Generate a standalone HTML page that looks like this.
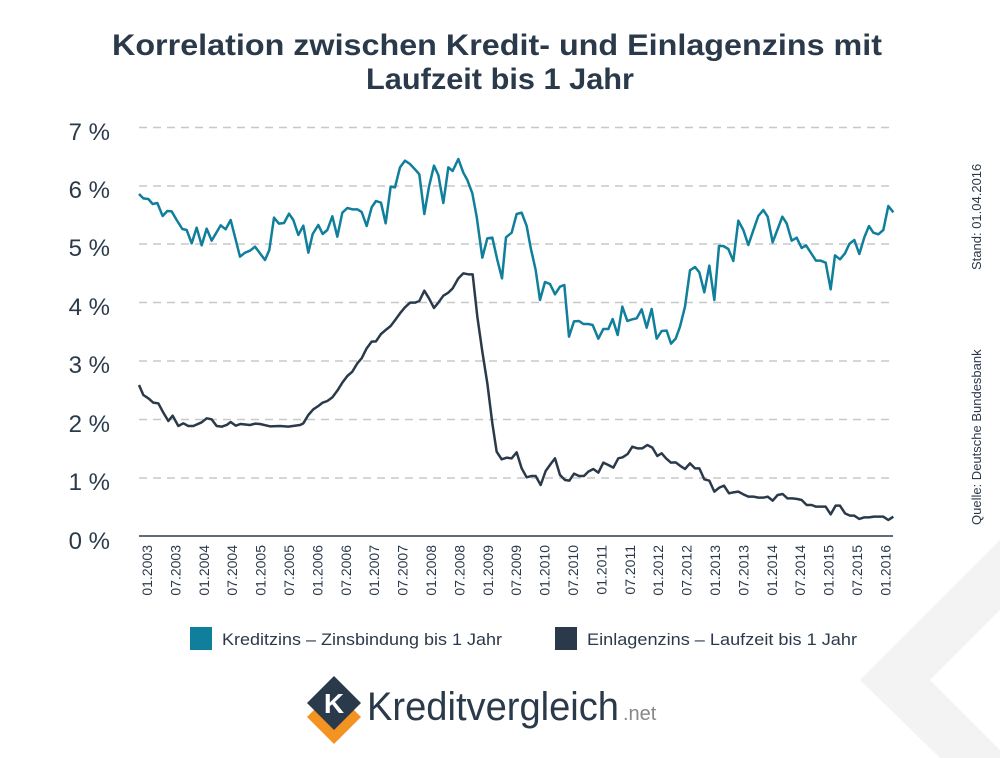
<!DOCTYPE html>
<html><head><meta charset="utf-8"><style>
body{margin:0;background:#fff;}
svg{display:block;font-family:"Liberation Sans",sans-serif;}
</style></head><body>
<svg width="1000" height="758" viewBox="0 0 1000 758" xmlns="http://www.w3.org/2000/svg">
<polygon points="1000,540 860,680 940,758 1000,758" fill="#f3f3f3"/>
<polygon points="1000,610 930,680 1000,750" fill="#fff"/>
<text x="112" y="55" font-size="30" font-weight="bold" fill="#2b3a4a" textLength="770" lengthAdjust="spacingAndGlyphs">Korrelation zwischen Kredit- und Einlagenzins mit</text>
<text x="366" y="89" font-size="30" font-weight="bold" fill="#2b3a4a" textLength="268" lengthAdjust="spacingAndGlyphs">Laufzeit bis 1 Jahr</text>
<g stroke="#c8c8c8" stroke-width="1.5" stroke-dasharray="8,6">
<line x1="139" y1="127.5" x2="893" y2="127.5"/><line x1="139" y1="186" x2="893" y2="186"/>
<line x1="139" y1="244" x2="893" y2="244"/><line x1="139" y1="302.5" x2="893" y2="302.5"/>
<line x1="139" y1="361" x2="893" y2="361"/><line x1="139" y1="419.5" x2="893" y2="419.5"/>
<line x1="139" y1="478" x2="893" y2="478"/></g>
<line x1="139" y1="536" x2="893" y2="536" stroke="#2b3a4a" stroke-width="1.5"/>
<g font-size="24" fill="#2b3a4a" text-anchor="end">
<text x="110" y="140">7 %</text><text x="110" y="198">6 %</text><text x="110" y="256">5 %</text>
<text x="110" y="315">4 %</text><text x="110" y="373">3 %</text><text x="110" y="432">2 %</text>
<text x="110" y="490">1 %</text><text x="110" y="549">0 %</text></g>
<g font-size="14" fill="#2b3a4a" text-anchor="end">
<text transform="translate(152,545) rotate(-90)">01.2003</text>
<text transform="translate(180.4,545) rotate(-90)">07.2003</text>
<text transform="translate(208.8,545) rotate(-90)">01.2004</text>
<text transform="translate(237.2,545) rotate(-90)">07.2004</text>
<text transform="translate(265.6,545) rotate(-90)">01.2005</text>
<text transform="translate(294,545) rotate(-90)">07.2005</text>
<text transform="translate(322.4,545) rotate(-90)">01.2006</text>
<text transform="translate(350.8,545) rotate(-90)">07.2006</text>
<text transform="translate(379.2,545) rotate(-90)">01.2007</text>
<text transform="translate(407.6,545) rotate(-90)">07.2007</text>
<text transform="translate(436,545) rotate(-90)">01.2008</text>
<text transform="translate(464.4,545) rotate(-90)">07.2008</text>
<text transform="translate(492.8,545) rotate(-90)">01.2009</text>
<text transform="translate(521.2,545) rotate(-90)">07.2009</text>
<text transform="translate(549.6,545) rotate(-90)">01.2010</text>
<text transform="translate(578,545) rotate(-90)">07.2010</text>
<text transform="translate(606.4,545) rotate(-90)">01.2011</text>
<text transform="translate(634.8,545) rotate(-90)">07.2011</text>
<text transform="translate(663.2,545) rotate(-90)">01.2012</text>
<text transform="translate(691.6,545) rotate(-90)">07.2012</text>
<text transform="translate(720,545) rotate(-90)">01.2013</text>
<text transform="translate(748.4,545) rotate(-90)">07.2013</text>
<text transform="translate(776.8,545) rotate(-90)">01.2014</text>
<text transform="translate(805.2,545) rotate(-90)">07.2014</text>
<text transform="translate(833.6,545) rotate(-90)">01.2015</text>
<text transform="translate(862,545) rotate(-90)">07.2015</text>
<text transform="translate(890.4,545) rotate(-90)">01.2016</text>
</g>
<g transform="translate(130,120) scale(0.33333)" fill="none" stroke-width="2.5" stroke-linejoin="round">
<polyline vector-effect="non-scaling-stroke" stroke="#0f7f9b" points="27,222 40,235 55,237 68,252 82,249 98,288 112,273 125,274 140,300 157,327 170,330 185,370 200,323 215,376 230,326 245,362 272,316 287,328 302,300 330,410 345,398 360,392 375,380 405,420 418,390 432,293 447,311 462,309 477,281 490,300 505,345 520,317 535,398 548,342 565,315 578,342 592,330 607,289 622,350 637,278 652,264 667,268 682,268 695,276 710,318 725,262 738,243 753,248 767,310 782,200 795,202 810,142 825,122 840,132 855,148 868,163 883,282 897,200 912,137 925,165 940,249 955,142 968,153 985,117 1000,158 1012,180 1027,220 1040,290 1057,413 1072,355 1087,353 1102,420 1116,475 1128,352 1145,338 1160,282 1175,278 1190,318 1202,383 1217,450 1230,540 1245,486 1260,492 1275,523 1290,500 1303,495 1317,650 1332,604 1347,603 1360,612 1375,612 1388,615 1405,656 1420,627 1435,627 1448,597 1463,645 1477,560 1492,603 1507,598 1520,595 1535,568 1550,623 1565,567 1580,656 1595,633 1610,632 1623,671 1637,656 1650,620 1665,560 1680,451 1695,441 1708,457 1723,517 1738,437 1753,540 1767,378 1780,378 1795,387 1810,423 1825,302 1840,330 1855,375 1870,331 1885,288 1900,270 1913,290 1928,367 1942,330 1957,290 1970,310 1985,362 2000,353 2015,384 2028,376 2045,402 2058,422 2072,422 2087,428 2102,508 2115,406 2130,418 2145,400 2158,372 2173,360 2188,402 2203,352 2217,318 2230,338 2245,343 2260,330 2275,258 2290,277"/>
<polyline vector-effect="non-scaling-stroke" stroke="#2b3a4a" points="27,795 40,825 55,835 70,848 85,850 100,878 115,903 128,887 145,918 160,910 175,918 190,918 215,907 230,895 245,898 260,918 275,920 290,915 302,906 317,917 332,912 360,915 375,911 390,912 420,919 450,918 475,920 510,915 520,910 535,885 550,868 565,858 578,848 592,843 607,832 622,812 637,788 652,768 667,755 682,730 695,715 710,685 725,665 738,664 753,642 767,630 782,618 797,598 810,580 825,562 840,548 855,548 868,543 883,512 897,535 912,564 925,548 940,527 955,518 968,505 985,475 1000,460 1015,463 1028,463 1042,590 1057,695 1072,790 1087,910 1100,995 1115,1018 1130,1013 1145,1015 1160,997 1175,1045 1190,1072 1205,1068 1217,1068 1232,1095 1247,1053 1262,1032 1275,1015 1290,1065 1305,1080 1318,1082 1332,1061 1347,1068 1362,1068 1375,1055 1390,1047 1405,1058 1420,1028 1435,1035 1450,1043 1465,1015 1478,1012 1493,1002 1507,980 1522,985 1537,985 1552,975 1567,983 1582,1008 1595,1000 1608,1015 1623,1028 1637,1027 1650,1037 1665,1047 1680,1030 1695,1045 1708,1045 1723,1078 1738,1082 1753,1115 1768,1103 1782,1097 1797,1120 1810,1117 1825,1115 1840,1123 1855,1130 1870,1130 1885,1133 1900,1133 1913,1130 1928,1142 1943,1125 1958,1122 1972,1135 1987,1135 2002,1137 2015,1140 2030,1155 2045,1155 2058,1160 2072,1160 2087,1160 2102,1183 2117,1157 2130,1157 2145,1180 2160,1187 2173,1187 2188,1197 2203,1192 2217,1192 2232,1190 2247,1190 2260,1190 2275,1200 2290,1190"/>
</g>
<rect x="190" y="627" width="22" height="23" fill="#0f7f9b"/>
<text x="222" y="645" font-size="17" fill="#2b3a4a" textLength="280" lengthAdjust="spacingAndGlyphs">Kreditzins – Zinsbindung bis 1 Jahr</text>
<rect x="555" y="627" width="22" height="23" fill="#2b3a4a"/>
<text x="587" y="645" font-size="17" fill="#2b3a4a" textLength="270" lengthAdjust="spacingAndGlyphs">Einlagenzins – Laufzeit bis 1 Jahr</text>
<text transform="translate(981,270) rotate(-90)" font-size="13" fill="#2b3a4a">Stand: 01.04.2016</text>
<text transform="translate(981,525) rotate(-90)" font-size="13" fill="#2b3a4a">Quelle: Deutsche Bundesbank</text>
<polygon points="334,690 361,717 334,744 307,717" fill="#f39322"/>
<polygon points="334,676 361,703 334,730 307,703" fill="#2b3a4a"/>
<text x="334" y="713" text-anchor="middle" font-size="28" font-weight="bold" fill="#fff">K</text>
<text x="367" y="720" font-size="40" fill="#2b3a4a" textLength="252" lengthAdjust="spacingAndGlyphs">Kreditvergleich</text>
<text x="623" y="720" font-size="20" fill="#888">.net</text>
</svg>
</body></html>
